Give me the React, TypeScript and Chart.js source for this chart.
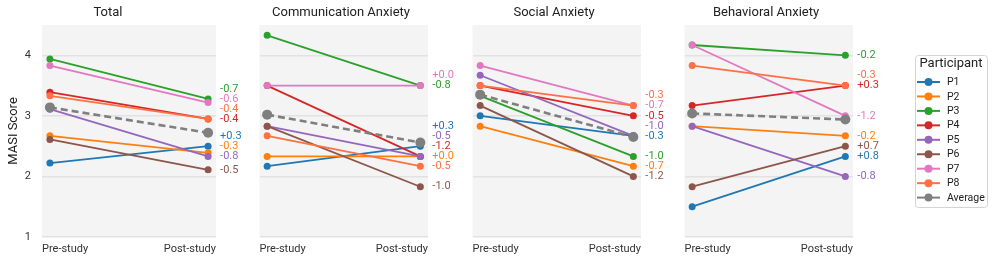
import React, { useEffect, useRef } from 'react';
import { Chart, registerables } from 'chart.js';
Chart.register(...registerables);

const participants = ['P1', 'P2', 'P3', 'P4', 'P5', 'P6', 'P7', 'P8'];
const colors = ['#1f77b4', '#ff7f0e', '#2ca02c', '#d62728', '#9467bd', '#8c564b', '#e377c2', '#ff7043'];
const averageLabel = 'Average';
const averageColor = '#7f7f7f';
const xLabels = ['Pre-study', 'Post-study'];
const yTicks = [1, 2, 3, 4];
const panelTitles = ['Total', 'Communication Anxiety', 'Social Anxiety', 'Behavioral Anxiety'];

const totalPre = [2.22, 2.67, 3.94, 3.39, 3.11, 2.61, 3.83, 3.33];
const totalPost = [2.5, 2.39, 3.28, 2.95, 2.33, 2.11, 3.22, 2.95];
const totalAvg = [3.14, 2.72];

const commPre = [2.17, 2.33, 4.33, 3.5, 2.83, 2.83, 3.5, 2.67];
const commPost = [2.5, 2.33, 3.5, 2.33, 2.33, 1.83, 3.5, 2.17];
const commAvg = [3.02, 2.56];

const socialPre = [3.0, 2.83, 3.33, 3.5, 3.67, 3.17, 3.83, 3.5];
const socialPost = [2.67, 2.17, 2.33, 3.0, 2.67, 2.0, 3.17, 3.17];
const socialAvg = [3.35, 2.65];

const behavPre = [1.5, 2.83, 4.17, 3.17, 2.83, 1.83, 4.17, 3.83];
const behavPost = [2.33, 2.67, 4.0, 3.5, 2.0, 2.5, 3.0, 3.5];
const behavAvg = [3.04, 2.94];

const panelPre = [totalPre, commPre, socialPre, behavPre];
const panelPost = [totalPost, commPost, socialPost, behavPost];
const panelAvg = [totalAvg, commAvg, socialAvg, behavAvg];

const FONT = 'Roboto, "DejaVu Sans", sans-serif';
const H = 264;
const PLOT_LEFTS = [42, 254, 467, 679];
const PLOT_W = 174;
const Y_AXIS_W = 42;

function canvasLeft(i: number) {
  return i === 0 ? PLOT_LEFTS[0] - Y_AXIS_W : PLOT_LEFTS[i];
}
function rightPad(i: number) {
  return i === 3 ? 996 - (PLOT_LEFTS[3] + PLOT_W) : 36;
}
function canvasWidth(i: number) {
  return (i === 0 ? Y_AXIS_W : 0) + PLOT_W + rightPad(i);
}

function fmtDelta(d: number) {
  const s = Math.abs(d).toFixed(1);
  return (d < 0 && s !== '0.0' ? '-' : '+') + s;
}

const bgPlugin = {
  id: 'plotBg',
  beforeDraw(chart: any) {
    const { ctx, chartArea } = chart;
    ctx.save();
    ctx.fillStyle = '#f4f4f4';
    ctx.fillRect(chartArea.left, chartArea.top, chartArea.right - chartArea.left, chartArea.bottom - chartArea.top);
    ctx.restore();
  },
};

function deltaPlugin(i: number) {
  return {
    id: 'deltas' + i,
    afterDatasetsDraw(chart: any) {
      const { ctx } = chart;
      const xs = chart.scales.x;
      const ys = chart.scales.y;
      const pre = panelPre[i];
      const post = panelPost[i];
      const items = participants.map((p, k) => ({ k, py: ys.getPixelForValue(post[k]), text: fmtDelta(post[k] - pre[k]) }));
      items.sort((a, b) => (b.py - a.py) || (a.k - b.k));
      let prev = Infinity;
      const gap = 9.9;
      ctx.save();
      ctx.font = '11px ' + FONT;
      ctx.textAlign = 'left';
      ctx.textBaseline = 'middle';
      const lx = xs.getPixelForValue(1) + 12;
      items.forEach((it) => {
        const ly = Math.min(it.py, prev - gap);
        prev = ly;
        ctx.fillStyle = colors[it.k];
        ctx.fillText(it.text, lx, ly);
      });
      ctx.restore();
    },
  };
}

const legendPlugin = {
  id: 'customLegend',
  afterDraw(chart: any) {
    const { ctx, chartArea } = chart;
    const bx = chartArea.right + 62;
    const by = 55;
    const bw = 72;
    const bh = 152;
    ctx.save();
    ctx.beginPath();
    if (ctx.roundRect) ctx.roundRect(bx + 0.5, by + 0.5, bw, bh, 3);
    else ctx.rect(bx + 0.5, by + 0.5, bw, bh);
    ctx.fillStyle = '#ffffff';
    ctx.fill();
    ctx.strokeStyle = '#d4d4d4';
    ctx.lineWidth = 1;
    ctx.stroke();
    ctx.fillStyle = '#222';
    ctx.font = '13px ' + FONT;
    ctx.textAlign = 'center';
    ctx.textBaseline = 'middle';
    ctx.fillText('Participant', bx + bw / 2, 64);
    const names = [...participants, averageLabel];
    const cols = [...colors, averageColor];
    ctx.font = '10.5px ' + FONT;
    ctx.textAlign = 'left';
    names.forEach((n, k) => {
      const y = 82 + k * 14.45;
      ctx.strokeStyle = cols[k];
      ctx.lineWidth = 2;
      ctx.beginPath();
      ctx.moveTo(bx + 2, y);
      ctx.lineTo(bx + 25, y);
      ctx.stroke();
      ctx.fillStyle = cols[k];
      ctx.beginPath();
      ctx.arc(bx + 13.5, y, 4, 0, Math.PI * 2);
      ctx.fill();
      ctx.fillStyle = '#222';
      ctx.fillText(n, bx + 32, y + 0.5);
    });
    ctx.restore();
  },
};

function buildConfig(i: number): any {
  const pre = panelPre[i];
  const post = panelPost[i];
  const avg = panelAvg[i];
  const datasets: any[] = participants.map((p, k) => ({
    label: p,
    data: [{ x: 0, y: pre[k] }, { x: 1, y: post[k] }],
    borderColor: colors[k],
    backgroundColor: colors[k],
    borderWidth: 1.8,
    pointRadius: 3.5,
    pointBorderWidth: 0,
    order: 8 - k,
    xAxisID: 'x',
    yAxisID: 'y',
  }));
  datasets.push({
    label: averageLabel,
    data: [{ x: 0, y: avg[0] }, { x: 1, y: avg[1] }],
    borderColor: averageColor,
    backgroundColor: averageColor,
    borderWidth: 2.6,
    borderDash: [7, 4],
    pointRadius: 5,
    pointBorderWidth: 0,
    order: -1,
    xAxisID: 'x',
    yAxisID: 'y',
  });
  const plugins: any[] = [bgPlugin, deltaPlugin(i)];
  if (i === 3) plugins.push(legendPlugin);
  return {
    type: 'line',
    data: { datasets },
    plugins,
    options: {
      responsive: false,
      animation: false,
      events: [],
      layout: { padding: { left: 0, right: rightPad(i), top: 0, bottom: 0 } },
      plugins: {
        legend: { display: false },
        tooltip: { enabled: false },
        title: {
          display: true,
          text: panelTitles[i],
          color: '#222',
          font: { family: FONT, size: 13, weight: 'normal' },
          padding: { top: 5, bottom: 4.4 },
        },
      },
      scales: {
        x: {
          type: 'linear',
          min: -0.05,
          max: 1.05,
          display: false,
        },
        xl: {
          type: 'category',
          labels: xLabels,
          offset: false,
          position: 'bottom',
          grid: { display: false, drawTicks: false },
          border: { display: false },
          ticks: {
            align: 'inner',
            autoSkip: false,
            maxRotation: 0,
            padding: 5.5,
            color: '#333',
            font: { family: FONT, size: 11 },
          },
          afterFit: (s: any) => {
            s.height = 27;
          },
        },
        y: {
          type: 'linear',
          min: 1,
          max: 4.5,
          position: 'left',
          afterBuildTicks: (s: any) => {
            s.ticks = yTicks.map((v) => ({ value: v }));
          },
          afterFit: (s: any) => {
            s.width = i === 0 ? Y_AXIS_W : 0;
          },
          grid: { color: '#e2e2e2', lineWidth: 1.5, drawTicks: false },
          border: { display: false },
          ticks: {
            display: i === 0,
            padding: 11,
            color: '#333',
            font: { family: FONT, size: 11 },
          },
          title: {
            display: i === 0,
            text: 'MASI Score',
            color: '#222',
            font: { family: FONT, size: 13 },
            padding: { top: 5.5, bottom: 0 },
          },
        },
      },
    },
  };
}

export default function App() {
  const r0 = useRef<HTMLCanvasElement | null>(null);
  const r1 = useRef<HTMLCanvasElement | null>(null);
  const r2 = useRef<HTMLCanvasElement | null>(null);
  const r3 = useRef<HTMLCanvasElement | null>(null);
  const refs = [r0, r1, r2, r3];
  useEffect(() => {
    const charts = refs.map((r, i) => new Chart(r.current as HTMLCanvasElement, buildConfig(i)));
    return () => charts.forEach((c) => c.destroy());
  }, []);
  return (
    <div style={{ position: 'absolute', left: 0, top: 0, width: 996, height: H, background: '#fff', overflow: 'hidden' }}>
      {panelTitles.map((t, i) => (
        <canvas
          key={t}
          ref={refs[i]}
          width={canvasWidth(i)}
          height={H}
          style={{ position: 'absolute', left: canvasLeft(i), top: 0, width: canvasWidth(i), height: H }}
        />
      ))}
    </div>
  );
}
